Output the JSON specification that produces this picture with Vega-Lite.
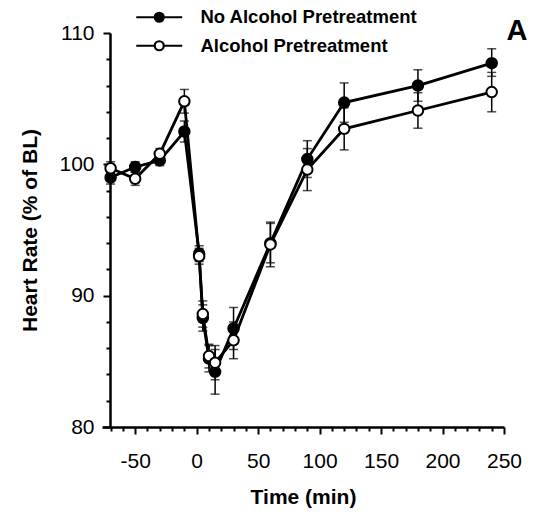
{
  "$schema": "https://vega.github.io/schema/vega-lite/v6.json",
  "width": 402,
  "height": 394,
  "autosize": "none",
  "padding": {"left": 102, "top": 33, "right": 32, "bottom": 87},
  "background": "white",
  "config": {
    "view": {"stroke": null},
    "font": "Liberation Sans",
    "axisY": {
      "title": "Heart Rate (% of BL)",
      "offset": -8,
      "values": [80,82,84,86,88,90,92,94,96,98,100,102,104,106,108,110],
      "labelExpr": "datum.value % 10 === 0 ? '' + datum.value : ''",
      "tickSize": {"condition": {"test": "datum.value % 10 === 0", "value": 7}, "value": 4},
      "labelPadding": 9,
      "labelFontSize": 21, "labelFont": "Liberation Sans", "labelColor": "black",
      "labelOverlap": false, "labelFlush": false, "labelBound": false,
      "titleFontSize": 21, "titleFontWeight": "bold", "titleFont": "Liberation Sans", "titleColor": "black", "titlePadding": 18,
      "domainColor": "black", "domainWidth": 2.5, "tickColor": "black", "tickWidth": 2, "grid": false
    }
  },
  "title": {"text": "A", "orient": "right", "anchor": "start", "frame": "group", "angle": 0, "align": "left", "baseline": "top", "fontSize": 29, "fontWeight": "bold", "font": "Liberation Sans", "color": "black", "offset": -36, "dy": -16},
  "data": {"values": [
    {"group": "No Alcohol Pretreatment", "t": -70, "v": 99.0, "lo": 98.5, "hi": 99.5},
    {"group": "No Alcohol Pretreatment", "t": -50, "v": 99.8, "lo": 99.4, "hi": 100.2},
    {"group": "No Alcohol Pretreatment", "t": -30, "v": 100.3, "lo": 99.9, "hi": 100.7},
    {"group": "No Alcohol Pretreatment", "t": -10, "v": 102.5, "lo": 101.7, "hi": 103.3},
    {"group": "No Alcohol Pretreatment", "t": 2, "v": 93.2, "lo": 92.6, "hi": 93.8},
    {"group": "No Alcohol Pretreatment", "t": 5, "v": 88.3, "lo": 87.3, "hi": 89.3},
    {"group": "No Alcohol Pretreatment", "t": 10, "v": 85.2, "lo": 84.2, "hi": 86.2},
    {"group": "No Alcohol Pretreatment", "t": 15, "v": 84.2, "lo": 82.5, "hi": 85.9},
    {"group": "No Alcohol Pretreatment", "t": 30, "v": 87.5, "lo": 85.9, "hi": 89.1},
    {"group": "No Alcohol Pretreatment", "t": 60, "v": 94.0, "lo": 92.5, "hi": 95.5},
    {"group": "No Alcohol Pretreatment", "t": 90, "v": 100.4, "lo": 99.0, "hi": 101.8},
    {"group": "No Alcohol Pretreatment", "t": 120, "v": 104.7, "lo": 103.2, "hi": 106.2},
    {"group": "No Alcohol Pretreatment", "t": 180, "v": 106.0, "lo": 104.8, "hi": 107.2},
    {"group": "No Alcohol Pretreatment", "t": 240, "v": 107.7, "lo": 106.7, "hi": 108.8},
    {"group": "Alcohol Pretreatment", "t": -70, "v": 99.7, "lo": 99.2, "hi": 100.2},
    {"group": "Alcohol Pretreatment", "t": -50, "v": 98.9, "lo": 98.4, "hi": 99.4},
    {"group": "Alcohol Pretreatment", "t": -30, "v": 100.8, "lo": 100.4, "hi": 101.2},
    {"group": "Alcohol Pretreatment", "t": -10, "v": 104.8, "lo": 103.9, "hi": 105.7},
    {"group": "Alcohol Pretreatment", "t": 2, "v": 93.0, "lo": 92.4, "hi": 93.6},
    {"group": "Alcohol Pretreatment", "t": 5, "v": 88.6, "lo": 87.6, "hi": 89.6},
    {"group": "Alcohol Pretreatment", "t": 10, "v": 85.4, "lo": 84.5, "hi": 86.3},
    {"group": "Alcohol Pretreatment", "t": 15, "v": 84.9, "lo": 83.6, "hi": 86.2},
    {"group": "Alcohol Pretreatment", "t": 30, "v": 86.6, "lo": 85.2, "hi": 88.0},
    {"group": "Alcohol Pretreatment", "t": 60, "v": 93.9, "lo": 92.2, "hi": 95.6},
    {"group": "Alcohol Pretreatment", "t": 90, "v": 99.6, "lo": 98.0, "hi": 101.2},
    {"group": "Alcohol Pretreatment", "t": 120, "v": 102.7, "lo": 101.1, "hi": 104.3},
    {"group": "Alcohol Pretreatment", "t": 180, "v": 104.1, "lo": 102.75, "hi": 105.45},
    {"group": "Alcohol Pretreatment", "t": 240, "v": 105.5, "lo": 104.0, "hi": 107.0}
  ]},
  "encoding": {
    "x": {
      "field": "t", "type": "quantitative",
      "scale": {"domain": [-77, 250], "nice": false, "zero": false},
      "axis": {
        "title": "Time (min)",
        "values": [-70,-60,-50,-40,-30,-20,-10,0,10,20,30,40,50,60,70,80,90,100,110,120,130,140,150,160,170,180,190,200,210,220,230,240,250],
        "labelExpr": "datum.value % 50 === 0 ? '' + datum.value : ''",
        "tickSize": {"condition": {"test": "datum.value % 50 === 0", "value": 7}, "value": 4},
        "labelPadding": 16,
        "labelFontSize": 21, "labelFont": "Liberation Sans", "labelColor": "black",
        "labelOverlap": false, "labelFlush": false, "labelBound": false,
        "titleFontSize": 21, "titleFontWeight": "bold", "titleFont": "Liberation Sans", "titleColor": "black", "titlePadding": 15,
        "domainColor": "black", "domainWidth": 2.5, "tickColor": "black", "tickWidth": 2, "grid": false
      }
    }
  },
  "layer": [
    {
      "mark": {"type": "line", "color": "black", "strokeWidth": 2.8},
      "encoding": {
        "detail": {"field": "group"},
        "y": {"field": "v", "type": "quantitative", "scale": {"domain": [80, 110], "nice": false, "zero": false}, "title": "Heart Rate (% of BL)"}
      }
    },
    {
      "mark": {"type": "rule", "color": "black", "strokeWidth": 1.5},
      "encoding": {
        "y": {"field": "lo", "type": "quantitative", "scale": {"domain": [80, 110], "nice": false, "zero": false}, "title": "Heart Rate (% of BL)"},
        "y2": {"field": "hi"}
      }
    },
    {
      "mark": {"type": "tick", "orient": "horizontal", "color": "black", "size": 9, "thickness": 1.5},
      "encoding": {
        "y": {"field": "lo", "type": "quantitative", "scale": {"domain": [80, 110], "nice": false, "zero": false}, "title": "Heart Rate (% of BL)"}
      }
    },
    {
      "mark": {"type": "tick", "orient": "horizontal", "color": "black", "size": 9, "thickness": 1.5},
      "encoding": {
        "y": {"field": "hi", "type": "quantitative", "scale": {"domain": [80, 110], "nice": false, "zero": false}, "title": "Heart Rate (% of BL)"}
      }
    },
    {
      "mark": {"type": "point", "shape": "circle", "filled": true, "stroke": "black", "strokeWidth": 2, "size": 110, "opacity": 1},
      "encoding": {
        "y": {"field": "v", "type": "quantitative", "scale": {"domain": [80, 110], "nice": false, "zero": false}, "title": "Heart Rate (% of BL)"},
        "fill": {
          "field": "group", "type": "nominal",
          "scale": {"domain": ["No Alcohol Pretreatment", "Alcohol Pretreatment"], "range": ["black", "white"]},
          "legend": {
            "orient": "none", "legendX": 48, "legendY": -25, "title": null,
            "symbolType": "M-3,0L-0.59,0M0.59,0L3,0M-0.59,0A0.59,0.59,0,1,1,0.59,0A0.59,0.59,0,1,1,-0.59,0Z",
            "symbolSize": 235, "symbolStrokeColor": "black", "symbolStrokeWidth": 2.2,
            "labelFont": "Liberation Sans", "labelFontSize": 18.5, "labelFontWeight": "bold", "labelColor": "black",
            "labelOffset": 32, "rowPadding": 9.5, "padding": 0, "labelLimit": 400
          }
        }
      }
    }
  ]
}
